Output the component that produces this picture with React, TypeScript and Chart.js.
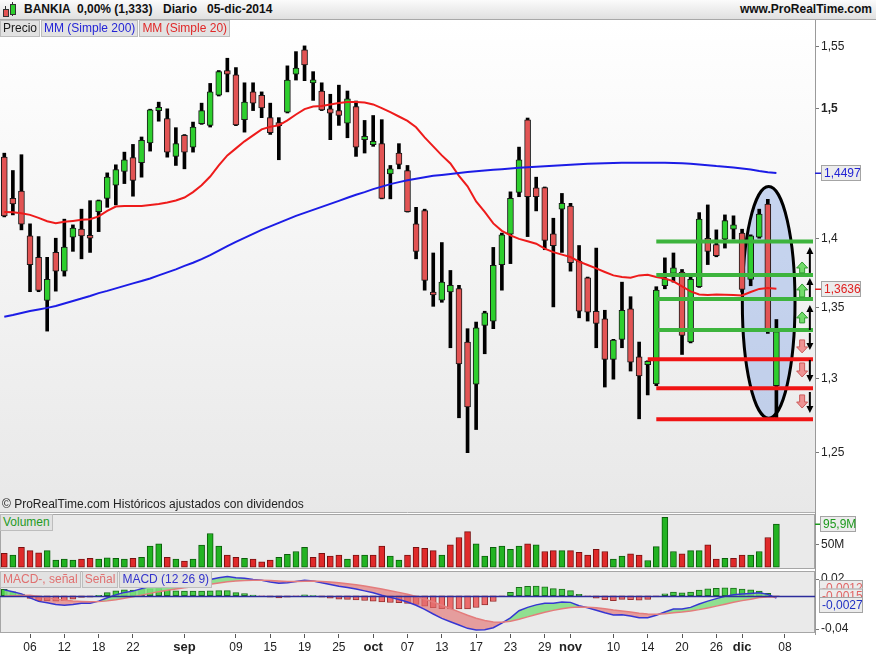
import React, { useEffect, useRef } from 'react';
import { Chart, registerables } from 'chart.js';

Chart.register(...registerables);

const FONT = '"Liberation Sans", Arial, Helvetica, sans-serif';

// ---------- categories (trading days, plus empty slots to the right) ----------
const dates = [
  '01/08','04/08','05/08','06/08','07/08','08/08','11/08','12/08','13/08','14/08','15/08','18/08','19/08','20/08','21/08','22/08','25/08','26/08','27/08','28/08','29/08',
  '01/09','02/09','03/09','04/09','05/09','08/09','09/09','10/09','11/09','12/09','15/09','16/09','17/09','18/09','19/09','22/09','23/09','24/09','25/09','26/09','29/09','30/09',
  '01/10','02/10','03/10','06/10','07/10','08/10','09/10','10/10','13/10','14/10','15/10','16/10','17/10','20/10','21/10','22/10','23/10','24/10','27/10','28/10','29/10','30/10','31/10',
  '03/11','04/11','05/11','06/11','07/11','10/11','11/11','12/11','13/11','14/11','17/11','18/11','19/11','20/11','21/11','24/11','25/11','26/11','27/11','28/11',
  '01/12','02/12','03/12','04/12','05/12','08/12','09/12','10/12','11/12'
];

const xTickLabels: Record<string, string> = {
  '06/08': '06', '12/08': '12', '18/08': '18', '22/08': '22', '01/09': 'sep', '09/09': '09', '15/09': '15',
  '19/09': '19', '25/09': '25', '01/10': 'oct', '07/10': '07', '13/10': '13', '17/10': '17', '23/10': '23',
  '29/10': '29', '03/11': 'nov', '10/11': '10', '14/11': '14', '20/11': '20', '26/11': '26', '01/12': 'dic', '08/12': '08'
};
const monthLabels = ['sep', 'oct', 'nov', 'dic'];

// ---------- price data ----------
const openP = [
  1.4619,1.4304,1.4358,1.4022,1.3864,1.3551,1.3900,1.3763,1.4013,1.4072,
  1.4022,1.4204,1.4304,1.4403,1.4510,1.4615,1.4576,1.4729,1.4984,1.4920,
  1.4625,1.4789,1.4697,1.4881,1.4867,1.5106,1.5305,1.5270,1.4912,1.5133,
  1.5106,1.4928,1.4870,1.4971,1.5275,1.5473,1.5206,1.5139,1.4998,1.4984,
  1.4885,1.5016,1.4755,1.4716,1.4724,1.4490,1.4651,1.4516,1.4112,1.4211,
  1.3607,1.3553,1.3612,1.3636,1.3256,1.2964,1.3373,1.3404,1.3811,1.4035,
  1.4349,1.4911,1.4383,1.4386,1.4037,1.4222,1.4246,1.3836,1.3715,1.3474,
  1.3420,1.3134,1.3275,1.3491,1.3153,1.3099,1.2966,1.3657,1.3746,1.3756,
  1.3256,1.3650,1.4005,1.3957,1.3998,1.4072,1.4043,1.3703,1.4013,1.4261,
  1.2953
];
const highP = [
  1.4650,1.4516,1.4638,1.4112,1.4017,1.3864,1.4005,1.4147,1.4104,1.4222,
  1.4286,1.4291,1.4498,1.4560,1.4658,1.4718,1.4776,1.4995,1.5051,1.4998,
  1.4849,1.4795,1.4893,1.5043,1.5201,1.5305,1.5405,1.5329,1.5206,1.5206,
  1.5133,1.5043,1.4928,1.5343,1.5459,1.5506,1.5296,1.5206,1.5114,1.5187,
  1.5140,1.5060,1.4906,1.4945,1.4912,1.4555,1.4724,1.4555,1.4236,1.4222,
  1.3896,1.3973,1.3768,1.3660,1.3350,1.3397,1.3474,1.3937,1.4043,1.4353,
  1.4697,1.4925,1.4465,1.4390,1.4154,1.4341,1.4266,1.3951,1.3720,1.3932,
  1.3481,1.3275,1.3683,1.3578,1.3256,1.3125,1.3650,1.3860,1.3896,1.3775,
  1.3732,1.4196,1.4254,1.4067,1.4179,1.4172,1.4072,1.4030,1.4222,1.4297,
  1.3415
];
const lowP = [
  1.4164,1.4179,1.4067,1.3614,1.3614,1.3333,1.3618,1.3727,1.3908,1.3853,
  1.3900,1.4054,1.4236,1.4254,1.4416,1.4320,1.4465,1.4666,1.4900,1.4619,
  1.4555,1.4529,1.4658,1.4875,1.4854,1.5100,1.5133,1.4865,1.4814,1.4984,
  1.4928,1.4796,1.4599,1.4965,1.5228,1.5223,1.5065,1.4984,1.4755,1.4867,
  1.4770,1.4625,1.4651,1.4703,1.4300,1.4300,1.4529,1.4200,1.3853,1.3625,
  1.3509,1.3538,1.3216,1.2735,1.2502,1.2656,1.3174,1.3350,1.3625,1.3818,
  1.4316,1.4017,1.4209,1.3920,1.3505,1.3900,1.3763,1.3427,1.3404,1.3216,
  1.2944,1.2998,1.3216,1.3054,1.2728,1.2890,1.2953,1.3635,1.3683,1.3169,
  1.3250,1.3645,1.3811,1.3868,1.3932,1.3998,1.3611,1.3657,1.4005,1.3317,
  1.2728
];
const closeP = [
  1.4172,1.4261,1.4110,1.3811,1.3623,1.3703,1.3763,1.3940,1.4080,1.4022,
  1.4005,1.4286,1.4465,1.4523,1.4599,1.4440,1.4750,1.4990,1.5010,1.4658,
  1.4724,1.4658,1.4854,1.4984,1.5133,1.5296,1.5275,1.4871,1.5051,1.5043,
  1.5006,1.4810,1.4865,1.5228,1.5324,1.5351,1.5223,1.4990,1.4964,1.4945,
  1.5078,1.4697,1.4781,1.4742,1.4304,1.4529,1.4562,1.4204,1.3908,1.3696,
  1.3590,1.3683,1.3660,1.3104,1.2809,1.3357,1.3463,1.3806,1.4030,1.4304,
  1.4599,1.4316,1.4316,1.3988,1.3949,1.4266,1.3824,1.3474,1.3467,1.3387,
  1.3134,1.3270,1.3481,1.3115,1.3021,1.3122,1.3625,1.3708,1.3788,1.3303,
  1.3703,1.4147,1.3908,1.3877,1.4137,1.4104,1.3630,1.4022,1.4186,1.3330,
  1.3330
];
const ma200 = [
  1.3435,1.3447,1.3461,1.3475,1.3487,1.3498,1.3511,1.3529,1.3547,1.3565,
  1.3583,1.3604,1.3620,1.3638,1.3656,1.3674,1.3691,1.3710,1.3732,1.3754,
  1.3776,1.3801,1.3824,1.3851,1.3880,1.3913,1.3946,1.3978,1.4007,1.4037,
  1.4067,1.4093,1.4119,1.4145,1.4172,1.4194,1.4217,1.4239,1.4262,1.4285,
  1.4308,1.4331,1.4351,1.4374,1.4393,1.4412,1.4427,1.4442,1.4453,1.4464,
  1.4475,1.4482,1.4490,1.4497,1.4504,1.4510,1.4516,1.4521,1.4526,1.4531,
  1.4537,1.4541,1.4545,1.4548,1.4552,1.4556,1.4560,1.4564,1.4568,1.4570,
  1.4572,1.4574,1.4575,1.4576,1.4576,1.4576,1.4575,1.4575,1.4574,1.4572,
  1.4568,1.4562,1.4557,1.4550,1.4545,1.4539,1.4531,1.4523,1.4512,1.4503,
  1.4497
];
const ma20 = [
  1.4201,1.4198,1.4192,1.4179,1.4157,1.4131,1.4116,1.4127,1.4134,1.4142,
  1.4147,1.4168,1.4209,1.4242,1.4246,1.4246,1.4246,1.4254,1.4261,1.4272,
  1.4287,1.4310,1.4351,1.4403,1.4470,1.4555,1.4633,1.4687,1.4742,1.4789,
  1.4836,1.4856,1.4867,1.4906,1.4953,1.4996,1.5016,1.5020,1.5033,1.5045,
  1.5052,1.5053,1.5049,1.5033,1.5004,1.4971,1.4937,1.4902,1.4852,1.4773,
  1.4703,1.4633,1.4570,1.4475,1.4395,1.4280,1.4201,1.4115,1.4060,1.4026,
  1.4000,1.3982,1.3964,1.3928,1.3902,1.3884,1.3866,1.3833,1.3808,1.3783,
  1.3757,1.3732,1.3721,1.3715,1.3732,1.3736,1.3721,1.3710,1.3689,1.3652,
  1.3616,1.3594,1.3591,1.3594,1.3592,1.3591,1.3587,1.3612,1.3634,1.3641,
  1.3636
];

// ---------- volume (millions) ----------
const volumeM = [
  31,27,44,37,32,37,16,18,16,18,
  20,18,21,20,18,20,22,47,52,22,
  18,14,18,49,75,47,27,22,20,18,
  12,16,22,29,35,44,22,31,25,27,
  18,27,27,27,47,25,16,27,44,42,
  37,27,50,66,79,52,25,44,47,40,
  47,52,50,35,37,37,37,33,27,40,
  35,18,25,30,27,15,46,111,35,30,
  37,37,50,18,20,20,27,27,35,66,
  95.9
];

// ---------- MACD (12 26 9) ----------
const macdLine = [
  0.0070,0.0048,0.0022,-0.0026,-0.0068,-0.0084,-0.0105,-0.0115,-0.0105,-0.0090,
  -0.0090,-0.0065,-0.0025,0.0010,0.0040,0.0055,0.0085,0.0110,0.0135,0.0135,
  0.0140,0.0150,0.0165,0.0180,0.0195,0.0215,0.0230,0.0215,0.0210,0.0195,
  0.0185,0.0165,0.0150,0.0155,0.0170,0.0185,0.0178,0.0155,0.0135,0.0115,
  0.0100,0.0080,0.0058,0.0035,0.0005,-0.0020,-0.0045,-0.0075,-0.0115,-0.0165,
  -0.0220,-0.0272,-0.0312,-0.0352,-0.0392,-0.0412,-0.0410,-0.0385,-0.0330,-0.0265,
  -0.0180,-0.0140,-0.0110,-0.0092,-0.0090,-0.0076,-0.0080,-0.0120,-0.0145,-0.0175,
  -0.0205,-0.0232,-0.0228,-0.0245,-0.0265,-0.0265,-0.0235,-0.0195,-0.0160,-0.0160,
  -0.0140,-0.0100,-0.0065,-0.0035,-0.0008,0.0012,0.0022,0.0028,0.0035,0.0016,
  -0.0027
];
const signalLine = [
  -0.0006,0.0000,0.0002,0.0006,-0.0008,-0.0023,-0.0039,-0.0054,-0.0064,-0.0069,
  -0.0073,-0.0071,-0.0062,-0.0048,-0.0030,-0.0013,0.0007,0.0028,0.0049,0.0066,
  0.0081,0.0095,0.0109,0.0123,0.0137,0.0153,0.0168,0.0177,0.0184,0.0186,
  0.0186,0.0182,0.0176,0.0172,0.0172,0.0175,0.0176,0.0172,0.0165,0.0155,
  0.0144,0.0131,0.0116,0.0100,0.0081,0.0061,0.0040,0.0017,-0.0009,-0.0040,
  -0.0076,-0.0115,-0.0154,-0.0194,-0.0234,-0.0270,-0.0298,-0.0315,-0.0318,-0.0307,
  -0.0282,-0.0254,-0.0225,-0.0198,-0.0176,-0.0156,-0.0141,-0.0137,-0.0139,-0.0146,
  -0.0158,-0.0173,-0.0184,-0.0196,-0.0210,-0.0221,-0.0222,-0.0218,-0.0205,-0.0196,
  -0.0184,-0.0167,-0.0147,-0.0125,-0.0102,-0.0079,-0.0059,-0.0042,-0.0022,-0.0014,
  -0.0015
];
const macdHist = [
  0.0076,0.0048,0.0020,-0.0032,-0.0060,-0.0061,-0.0066,-0.0061,-0.0041,-0.0021,
  -0.0017,0.0006,0.0037,0.0058,0.0070,0.0068,0.0078,0.0082,0.0086,0.0069,
  0.0059,0.0055,0.0056,0.0057,0.0058,0.0062,0.0062,0.0038,0.0026,0.0009,
  -0.0001,-0.0017,-0.0026,-0.0017,-0.0002,0.0010,0.0002,-0.0017,-0.0030,-0.0040,
  -0.0044,-0.0051,-0.0058,-0.0065,-0.0076,-0.0081,-0.0085,-0.0092,-0.0106,-0.0125,
  -0.0144,-0.0157,-0.0158,-0.0158,-0.0158,-0.0142,-0.0112,-0.0070,-0.0012,0.0042,
  0.0102,0.0114,0.0115,0.0106,0.0086,0.0080,0.0061,0.0017,-0.0006,-0.0029,
  -0.0047,-0.0059,-0.0044,-0.0049,-0.0055,-0.0044,-0.0013,0.0023,0.0045,0.0036,
  0.0044,0.0067,0.0082,0.0090,0.0094,0.0091,0.0081,0.0070,0.0057,0.0030,
  -0.0012
];

// ---------- axis ticks ----------
const priceTicks = [1.25, 1.3, 1.35, 1.4, 1.5, 1.55];
const volumeTicks = [50];
const macdTicks = [0.02, -0.02, -0.04];

// ---------- drawn annotations (price levels) ----------
const greenLevels = [1.398, 1.3735, 1.3562, 1.3341];
const greenLevelStarts = ['17/11', '17/11', '17/11', '17/11'];
const redLevels = [1.3136, 1.2936, 1.2725];
const redLevelStarts = ['14/11', '17/11', '17/11'];
const upBlockArrows = [[1.3750, 1.3830], [1.3576, 1.3670], [1.3391, 1.3469]];
const upLineArrows = [[1.3750, 1.3940], [1.3576, 1.3714], [1.3341, 1.3519]];
const downBlockArrows = [[1.3271, 1.3180], [1.3110, 1.3013], [1.2890, 1.2801]];
const downLineArrows = [[1.3320, 1.3201], [1.3131, 1.2979], [1.2910, 1.2768]];
const blockArrowSlot = 93.0;
const lineArrowSlot = 93.9;
const ellipseSlot = 89.1;
const ellipseHalfSlots = 3.07;
const ellipseTop = 1.4393;
const ellipseBottom = 1.2732;

const fmtComma = (v: number, d?: number) => (d === undefined ? String(v) : v.toFixed(d)).replace('.', ',');

function valueBox(ctx: any, x: number, yc: number, w: number, text: string, color: string) {
  ctx.fillStyle = '#ececec';
  ctx.fillRect(x, yc - 8, w, 16);
  ctx.strokeStyle = '#a4a4a4';
  ctx.lineWidth = 1;
  ctx.strokeRect(x + 0.5, yc - 7.5, w - 1, 15);
  ctx.fillStyle = color;
  ctx.font = `12px ${FONT}`;
  ctx.textAlign = 'left';
  ctx.textBaseline = 'middle';
  ctx.fillText(text, x + 3, yc + 0.5);
}

function blockArrow(ctx: any, cx: number, yBase: number, yTip: number, fill: string, stroke: string) {
  const dir = yBase > yTip ? 1 : -1;
  const headH = 6;
  const yh = yTip + dir * headH;
  ctx.beginPath();
  ctx.moveTo(cx, yTip);
  ctx.lineTo(cx + 5.5, yh);
  ctx.lineTo(cx + 2.5, yh);
  ctx.lineTo(cx + 2.5, yBase);
  ctx.lineTo(cx - 2.5, yBase);
  ctx.lineTo(cx - 2.5, yh);
  ctx.lineTo(cx - 5.5, yh);
  ctx.closePath();
  ctx.fillStyle = fill;
  ctx.fill();
  ctx.strokeStyle = stroke;
  ctx.lineWidth = 1;
  ctx.stroke();
}

function lineArrow(ctx: any, cx: number, yBase: number, yTip: number) {
  const dir = yBase > yTip ? 1 : -1;
  ctx.strokeStyle = '#000';
  ctx.lineWidth = 2;
  ctx.beginPath();
  ctx.moveTo(cx, yBase);
  ctx.lineTo(cx, yTip + dir * 4);
  ctx.stroke();
  ctx.fillStyle = '#000';
  ctx.beginPath();
  ctx.moveTo(cx, yTip);
  ctx.lineTo(cx + 3.5, yTip + dir * 7);
  ctx.lineTo(cx - 3.5, yTip + dir * 7);
  ctx.closePath();
  ctx.fill();
}

const overlayPlugin = {
  id: 'prtOverlay',
  beforeDraw(chart: any) {
    const { ctx, chartArea: ca } = chart;
    const sy = chart.scales.y, sv = chart.scales.yVol, sm = chart.scales.yMacd;
    const w = ca.right - ca.left;
    ctx.save();
    ctx.fillStyle = '#ffffff';
    ctx.fillRect(0, 0, chart.width, chart.height);
    const g = ctx.createLinearGradient(0, sy.top, 0, sy.bottom);
    g.addColorStop(0, '#ffffff');
    g.addColorStop(1, '#e8e8e8');
    ctx.fillStyle = g;
    ctx.fillRect(ca.left, sy.top, w, sy.bottom - sy.top - 1);
    ctx.strokeStyle = '#b0b0b0';
    ctx.lineWidth = 1;
    ctx.beginPath();
    ctx.moveTo(ca.left, sy.bottom - 0.5);
    ctx.lineTo(ca.right, sy.bottom - 0.5);
    ctx.stroke();
    for (const s of [sv, sm]) {
      ctx.fillStyle = '#eaeaea';
      ctx.fillRect(ca.left, s.top + 1, w, s.bottom - s.top - 2);
      ctx.strokeStyle = '#a6a6a6';
      ctx.strokeRect(ca.left + 0.5, s.top + 1.5, w - 1, s.bottom - s.top - 3);
    }
    ctx.restore();
  },
  beforeDatasetsDraw(chart: any) {
    const { ctx } = chart;
    const xs = chart.scales.x, sy = chart.scales.y;
    const cx = xs.getPixelForValue(ellipseSlot);
    const rx = xs.getPixelForValue(ellipseSlot + ellipseHalfSlots) - cx;
    const top = sy.getPixelForValue(ellipseTop);
    const bottom = sy.getPixelForValue(ellipseBottom);
    ctx.save();
    ctx.beginPath();
    ctx.ellipse(cx, (top + bottom) / 2, rx, (bottom - top) / 2, 0, 0, Math.PI * 2);
    ctx.fillStyle = 'rgba(150, 178, 232, 0.5)';
    ctx.fill();
    ctx.lineWidth = 3;
    ctx.strokeStyle = '#000';
    ctx.stroke();
    ctx.restore();
  },
  afterDatasetsDraw(chart: any) {
    const { ctx, chartArea: ca } = chart;
    const xs = chart.scales.x, sy = chart.scales.y, sm = chart.scales.yMacd;
    ctx.save();
    // MACD zero line
    const z = Math.round(sm.getPixelForValue(0)) + 0.5;
    ctx.strokeStyle = '#2c2c9c';
    ctx.lineWidth = 1.5;
    ctx.beginPath();
    ctx.moveTo(ca.left, z);
    ctx.lineTo(ca.right, z);
    ctx.stroke();
    // horizontal levels
    const xEnd = ca.right - 2;
    ctx.lineWidth = 4;
    ctx.strokeStyle = '#3db43d';
    greenLevels.forEach((p, i) => {
      const yy = sy.getPixelForValue(p);
      ctx.beginPath();
      ctx.moveTo(xs.getPixelForValue(dates.indexOf(greenLevelStarts[i])), yy);
      ctx.lineTo(xEnd, yy);
      ctx.stroke();
    });
    ctx.strokeStyle = '#f01414';
    redLevels.forEach((p, i) => {
      const yy = sy.getPixelForValue(p);
      ctx.beginPath();
      ctx.moveTo(xs.getPixelForValue(dates.indexOf(redLevelStarts[i])), yy);
      ctx.lineTo(xEnd, yy);
      ctx.stroke();
    });
    // arrows
    const bx = xs.getPixelForValue(blockArrowSlot);
    const lx = xs.getPixelForValue(lineArrowSlot);
    upBlockArrows.forEach(([a, b]) => blockArrow(ctx, bx, sy.getPixelForValue(a), sy.getPixelForValue(b), '#72dc6a', '#2f9a2f'));
    downBlockArrows.forEach(([a, b]) => blockArrow(ctx, bx, sy.getPixelForValue(a), sy.getPixelForValue(b), '#ee9494', '#cc5a5a'));
    upLineArrows.forEach(([a, b]) => lineArrow(ctx, lx, sy.getPixelForValue(a), sy.getPixelForValue(b)));
    downLineArrows.forEach(([a, b]) => lineArrow(ctx, lx, sy.getPixelForValue(a), sy.getPixelForValue(b)));
    ctx.restore();
  },
  afterDraw(chart: any) {
    const { ctx, chartArea: ca } = chart;
    const sy = chart.scales.y, sv = chart.scales.yVol, sm = chart.scales.yMacd;
    const ax = ca.right;
    ctx.save();
    const priceLabels = [
      { v: ma200[ma200.length - 1], color: '#2222d4' },
      { v: ma20[ma20.length - 1], color: '#e02020' },
    ];
    priceLabels.forEach(({ v, color }) => {
      const yc = Math.round(sy.getPixelForValue(v));
      ctx.fillStyle = color;
      ctx.fillRect(ax, yc - 0.5, 6, 1.5);
      valueBox(ctx, ax + 6, yc, 40, fmtComma(v, 4), color);
    });
    const vLast = volumeM[volumeM.length - 1];
    const vy = Math.round(sv.getPixelForValue(vLast));
    ctx.fillStyle = '#1e9a1e';
    ctx.fillRect(ax, vy - 0.5, 5, 1.5);
    valueBox(ctx, ax + 5, vy, 36, fmtComma(vLast) + 'M', '#1e9a1e');
    const mLast = macdLine[macdLine.length - 1];
    const my = Math.round(sm.getPixelForValue(mLast));
    const macdLabels = [
      { v: macdHist[macdHist.length - 1], color: '#e06464', dy: -17 },
      { v: signalLine[signalLine.length - 1], color: '#e06464', dy: -8.5 },
      { v: mLast, color: '#2030c4', dy: 0 },
    ];
    macdLabels.forEach(({ v, color, dy }) => {
      valueBox(ctx, ax + 4, my + 7 + dy, 44, fmtComma(v, 4), color);
    });
    ctx.restore();
  },
};

const legendBox = (color: string): React.CSSProperties => ({
  display: 'inline-block',
  height: 15,
  lineHeight: '15px',
  padding: '0 2px',
  marginRight: 1,
  background: '#e2e2e2',
  border: '1px solid #bdbdbd',
  color,
  fontSize: 12,
  whiteSpace: 'nowrap',
  verticalAlign: 'top',
});

const headerText: React.CSSProperties = {
  position: 'absolute',
  top: 2,
  fontSize: 12,
  fontWeight: 'bold',
  color: '#111',
  lineHeight: '15px',
  whiteSpace: 'nowrap',
};

export default function App() {
  const canvasRef = useRef<HTMLCanvasElement | null>(null);

  useEffect(() => {
    const canvas = canvasRef.current;
    if (!canvas) return;
    const upCandle = closeP.map((c, i) => c >= openP[i]);
    const upVol = closeP.map((c, i) => i > 0 && c >= closeP[i - 1]);

    const chart = new Chart(canvas, {
      type: 'bar',
      data: {
        labels: dates,
        datasets: [
          {
            type: 'line', label: 'MM (Simple 200)', data: ma200, yAxisID: 'y',
            borderColor: '#1c1ce6', borderWidth: 2, pointRadius: 0, tension: 0, order: 0,
          } as any,
          {
            type: 'line', label: 'MM (Simple 20)', data: ma20, yAxisID: 'y',
            borderColor: '#ee1b1b', borderWidth: 2, pointRadius: 0, tension: 0, order: 0,
          } as any,
          {
            type: 'bar', label: 'body', data: openP.map((o, i) => [o, closeP[i]]), yAxisID: 'y',
            backgroundColor: upCandle.map(u => (u ? '#2ecf2e' : '#e25454')),
            borderColor: '#1a1a1a', borderWidth: 1, borderSkipped: false,
            barThickness: 6, grouped: false, minBarLength: 3, order: 2,
          } as any,
          {
            type: 'bar', label: 'wick', data: lowP.map((l, i) => [l, highP[i]]), yAxisID: 'y',
            backgroundColor: '#000', borderWidth: 0, barThickness: 3, grouped: false, order: 3,
          } as any,
          {
            type: 'bar', label: 'Volumen', data: volumeM, yAxisID: 'yVol',
            backgroundColor: upVol.map(u => (u ? '#22b322' : '#e02a2a')),
            borderColor: upVol.map(u => (u ? '#0b5e0b' : '#7a1010')),
            borderWidth: 1, borderSkipped: false, barThickness: 6, grouped: false, order: 3,
          } as any,
          {
            type: 'bar', label: 'MACD-, señal', data: macdHist, yAxisID: 'yMacd',
            backgroundColor: macdHist.map(v => (v >= 0 ? '#48cc48' : '#ec6c6c')),
            borderColor: macdHist.map(v => (v >= 0 ? '#1a6e1a' : '#983030')),
            borderWidth: 1, borderSkipped: false, barThickness: 6, grouped: false, order: 4,
          } as any,
          {
            type: 'line', label: 'MACD (12 26 9)', data: macdLine, yAxisID: 'yMacd',
            borderColor: '#3636d2', borderWidth: 1.5, pointRadius: 0, tension: 0, order: 1,
            fill: { target: 7, above: 'rgba(128, 222, 128, 0.85)', below: 'rgba(226, 110, 110, 0.62)' },
          } as any,
          {
            type: 'line', label: 'Señal', data: signalLine, yAxisID: 'yMacd',
            borderColor: '#e47c7c', borderWidth: 1.5, pointRadius: 0, tension: 0, order: 0.5,
          } as any,
        ],
      },
      options: {
        animation: false,
        responsive: false,
        devicePixelRatio: 1,
        events: [],
        layout: { padding: { top: 20, left: 0, right: 0, bottom: 0 } },
        plugins: { legend: { display: false }, tooltip: { enabled: false } },
        scales: {
          x: {
            type: 'category',
            offset: true,
            afterBuildTicks: (ax: any) => {
              ax.ticks = ax.ticks.filter((t: any) => xTickLabels[dates[t.value]] !== undefined);
            },
            afterFit: (ax: any) => { ax.height = 20; },
            ticks: {
              autoSkip: false, maxRotation: 0, minRotation: 0, padding: 2, color: '#222',
              callback: (v: any) => xTickLabels[dates[v]],
              font: (c: any) => {
                const lbl = c.tick ? xTickLabels[dates[c.tick.value]] : '';
                return monthLabels.includes(lbl)
                  ? { family: FONT, size: 13, weight: 'bold' }
                  : { family: FONT, size: 12, weight: 'normal' };
              },
            },
            grid: { offset: false, drawOnChartArea: false, drawTicks: true, tickLength: 4, color: '#555' },
            border: { display: false },
          },
          y: {
            type: 'logarithmic', position: 'right', stack: 'panels', stackWeight: 493,
            min: 1.2109, max: 1.572, bounds: 'data',
            afterBuildTicks: (ax: any) => { ax.ticks = priceTicks.map(v => ({ value: v })); },
            afterFit: (ax: any) => { ax.width = 61; },
            ticks: {
              padding: 2, color: '#222',
              callback: (v: any) => fmtComma(Number(v)),
              font: (c: any) => ({ family: FONT, size: 12, weight: c.tick && c.tick.value === 1.5 ? 'bold' : 'normal' }),
            },
            grid: { drawOnChartArea: false, tickLength: 4, color: '#777' },
            border: { display: true, color: '#9a9a9a' },
          },
          yVol: {
            type: 'linear', position: 'right', stack: 'panels', stackWeight: 57,
            min: -6, max: 120.4,
            afterBuildTicks: (ax: any) => { ax.ticks = volumeTicks.map(v => ({ value: v })); },
            afterFit: (ax: any) => { ax.width = 61; },
            ticks: { padding: 2, color: '#222', font: { family: FONT, size: 12 }, callback: (v: any) => `${v}M` },
            grid: { drawOnChartArea: false, tickLength: 4, color: '#777' },
            border: { display: true, color: '#9a9a9a' },
          },
          yMacd: {
            type: 'linear', position: 'right', stack: 'panels', stackWeight: 64,
            min: -0.046, max: 0.0309,
            afterBuildTicks: (ax: any) => { ax.ticks = macdTicks.map(v => ({ value: v })); },
            afterFit: (ax: any) => { ax.width = 61; },
            ticks: { padding: 2, color: '#222', font: { family: FONT, size: 12 }, callback: (v: any) => fmtComma(Number(v), 2) },
            grid: { drawOnChartArea: false, tickLength: 4, color: '#777' },
            border: { display: true, color: '#9a9a9a' },
          },
        },
      } as any,
      plugins: [overlayPlugin as any],
    });

    return () => chart.destroy();
  }, []);

  return (
    <div style={{ position: 'fixed', left: 0, top: 0, width: 876, height: 654, background: '#fff', overflow: 'hidden', fontFamily: FONT }}>
      <canvas ref={canvasRef} width={876} height={654} style={{ position: 'absolute', left: 0, top: 0, width: 876, height: 654 }} />
      <div style={{ position: 'absolute', left: 0, top: 0, width: 876, height: 19, background: 'linear-gradient(#fbfbfb, #e0e0e0)', borderBottom: '1px solid #a8a8a8' }}>
        <div style={{ position: 'absolute', left: 5, top: 6, width: 1, height: 11, background: '#333' }} />
        <div style={{ position: 'absolute', left: 3, top: 9, width: 4, height: 6, background: '#e25454', border: '1px solid #333' }} />
        <div style={{ position: 'absolute', left: 12, top: 2, width: 1, height: 14, background: '#333' }} />
        <div style={{ position: 'absolute', left: 10, top: 4, width: 4, height: 9, background: '#2ecf2e', border: '1px solid #333' }} />
        <span style={{ ...headerText, left: 24 }}>BANKIA</span>
        <span style={{ ...headerText, left: 77 }}>0,00% (1,333)</span>
        <span style={{ ...headerText, left: 163 }}>Diario</span>
        <span style={{ ...headerText, left: 207 }}>05-dic-2014</span>
        <span style={{ ...headerText, right: 4 }}>www.ProRealTime.com</span>
      </div>
      <div style={{ position: 'absolute', left: 0, top: 20, whiteSpace: 'nowrap' }}>
        <span style={legendBox('#1a1a1a')}>Precio</span>
        <span style={legendBox('#2424d6')}>MM (Simple 200)</span>
        <span style={legendBox('#e02828')}>MM (Simple 20)</span>
      </div>
      <div style={{ position: 'absolute', left: 2, top: 497, fontSize: 12, color: '#222', whiteSpace: 'nowrap', lineHeight: '14px' }}>
        © ProRealTime.com Históricos ajustados con dividendos
      </div>
      <div style={{ position: 'absolute', left: 0, top: 514, whiteSpace: 'nowrap' }}>
        <span style={legendBox('#1e9a1e')}>Volumen</span>
      </div>
      <div style={{ position: 'absolute', left: 0, top: 571, whiteSpace: 'nowrap' }}>
        <span style={legendBox('#e07070')}>MACD-, señal</span>
        <span style={legendBox('#e07070')}>Señal</span>
        <span style={legendBox('#3333cc')}>MACD (12 26 9)</span>
      </div>
    </div>
  );
}
